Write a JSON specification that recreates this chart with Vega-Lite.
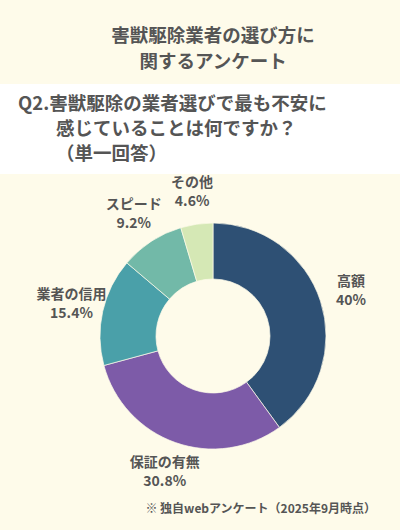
{
  "$schema": "https://vega.github.io/schema/vega-lite/v6.json",
  "background": "#fefbea",
  "padding": {"top": 26, "bottom": 18, "left": 0, "right": 0},
  "title": {
    "text": ["害獣駆除業者の選び方に", "関するアンケート"],
    "fontSize": 18.5,
    "lineHeight": 26,
    "font": "Noto Sans CJK JP",
    "fontWeight": "bold",
    "color": "#555555",
    "anchor": "middle",
    "dx": 13,
    "offset": 13
  },
  "config": {
    "view": {"stroke": null},
    "concat": {"spacing": 0},
    "font": "Noto Sans CJK JP"
  },
  "vconcat": [
    {
      "width": 400,
      "height": 90,
      "view": {"fill": "#ffffff", "stroke": null},
      "layer": [
        {
          "data": {"values": [{"q": "Q2.害獣駆除の業者選びで最も不安に"}]},
          "mark": {
            "type": "text",
            "fontSize": 18.5,
            "fontWeight": "bold",
            "color": "#555555",
            "align": "left",
            "baseline": "middle",
            "dx": -182,
            "dy": -25
          },
          "encoding": {"text": {"field": "q"}}
        },
        {
          "data": {"values": [{"q": "感じていることは何ですか？\n（単一回答）"}]},
          "mark": {
            "type": "text",
            "lineBreak": "\n",
            "lineHeight": 25,
            "fontSize": 18.5,
            "fontWeight": "bold",
            "color": "#555555",
            "align": "left",
            "baseline": "middle",
            "dx": -144
          },
          "encoding": {"text": {"field": "q"}}
        }
      ]
    },
    {
      "width": 400,
      "height": 324,
      "title": {
        "text": "※ 独自webアンケート（2025年9月時点）",
        "orient": "bottom",
        "anchor": "end",
        "dx": -24,
        "offset": 6,
        "fontSize": 12,
        "fontWeight": "bold",
        "color": "#555555"
      },
      "data": {"values": [
        {"item": "高額", "share": 0.4},
        {"item": "保証の有無", "share": 0.308},
        {"item": "業者の信用", "share": 0.154},
        {"item": "スピード", "share": 0.092},
        {"item": "その他", "share": 0.046}
      ]},
      "encoding": {
        "theta": {"field": "share", "type": "quantitative", "stack": true},
        "order": {"field": "share", "type": "quantitative", "sort": "descending"},
        "color": {
          "field": "item",
          "type": "nominal",
          "scale": {
            "domain": ["高額", "保証の有無", "業者の信用", "スピード", "その他"],
            "range": ["#2e5074", "#7d5ba8", "#4aa0a9", "#72b9a8", "#d5e8b5"]
          },
          "legend": null
        }
      },
      "layer": [
        {
          "mark": {"type": "arc", "radius": 113, "radius2": 57, "xOffset": 13, "stroke": "#fefbea", "strokeWidth": 0.7}
        },
        {
          "mark": {"type": "text", "radius": 145, "xOffset": 13, "dy": -9.5, "fontSize": 14, "fontWeight": "bold"},
          "encoding": {
            "text": {"field": "item"},
            "fill": {"value": "#555555"}
          }
        },
        {
          "mark": {"type": "text", "radius": 145, "xOffset": 13, "dy": 9.5, "fontSize": 14, "fontWeight": "bold"},
          "encoding": {
            "text": {"field": "share", "type": "quantitative", "format": ".1~%"},
            "fill": {"value": "#555555"}
          }
        }
      ]
    }
  ]
}
